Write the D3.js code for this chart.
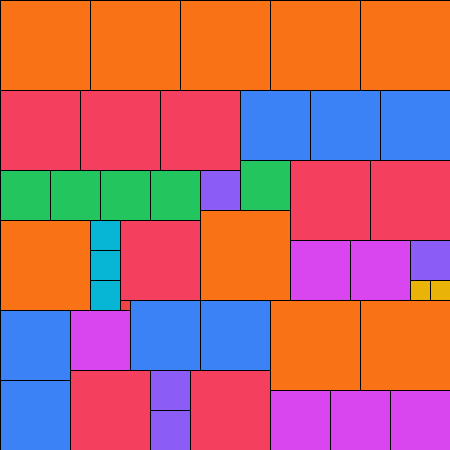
<!DOCTYPE html>
<html>
<head>
<meta charset="utf-8">
<script src="https://cdn.jsdelivr.net/npm/d3@7"></script>
<style>
  body { margin: 0; background: white; }
  svg { display: block; }
</style>
</head>
<body>
<div id="chart"></div>
<script>
// Square sides (in units of 10), in the order they get packed
const sides = [9, 9, 9, 9, 9, 8, 8, 8, 7, 7, 7, 5, 8, 8, 5, 5, 5, 5, 4, 9, 9, 3, 8,
    6, 6, 4, 3, 3, 2, 2, 1, 7, 7, 9, 9, 7, 6, 8, 4, 8, 7, 6, 6, 6, 4];

// Colour for each side length
const sizeKeys = [1, 2, 3, 4, 5, 6, 7, 8, 9];
const sizeColors = ["#ef4444", "#eab308", "#06b6d4", "#8b5cf6", "#22c55e",
    "#d946ef", "#3b82f6", "#f43f5e", "#f97316"];

const width = 450;
const height = 450;
const cols = 45;

// bottom-left skyline packing: lowest spot first, then leftmost
const skyline = new Array(cols).fill(0);
const tiles = sides.map((s) => {
    let bestX = 0;
    let bestY = Infinity;
    for (let x = 0; x + s <= cols; x++) {
        const y = d3.max(skyline.slice(x, x + s));
        if (y < bestY) {
            bestY = y;
            bestX = x;
        }
    }
    for (let i = bestX; i < bestX + s; i++) skyline[i] = bestY + s;
    return {x: bestX, y: bestY, s: s};
});

const xScale = d3.scaleLinear().domain([0, cols]).range([0, width]);
const yScale = d3.scaleLinear().domain([0, cols]).range([0, height]);
const color = d3.scaleOrdinal().domain(sizeKeys).range(sizeColors);

const svg = d3.select("#chart").append("svg")
    .attr("width", width)
    .attr("height", height);

svg.selectAll("rect")
    .data(tiles)
    .enter()
    .append("rect")
    .attr("x", d => xScale(d.x) + 0.5)
    .attr("y", d => yScale(d.y) + 0.5)
    .attr("width", d => xScale(d.s))
    .attr("height", d => yScale(d.s))
    .attr("fill", d => color(d.s))
    .attr("stroke", "#000")
    .attr("stroke-width", 1);
</script>
</body>
</html>
